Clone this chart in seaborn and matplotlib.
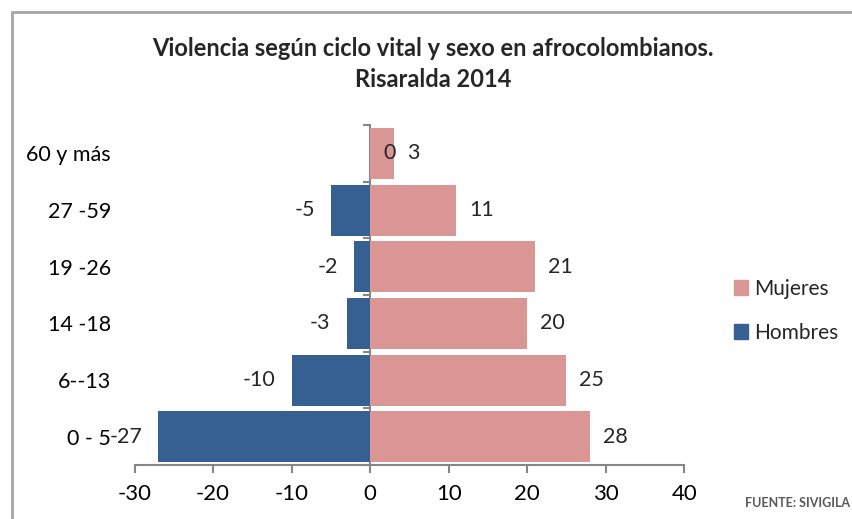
import matplotlib
matplotlib.use('Agg')
import matplotlib.pyplot as plt
from matplotlib.lines import Line2D
from matplotlib.patches import Patch
import pandas as pd
import seaborn as sns

categorias = ["60 y más", "27 -59", "19 -26", "14 -18", "6--13", "0 - 5"]
mujeres = [3, 11, 21, 20, 25, 28]
hombres = [0, -5, -2, -3, -10, -27]
x_ticks = [-30, -20, -10, 0, 10, 20, 30, 40]

COLOR_M = '#D99694'
COLOR_H = '#376092'
GRIS = '#868686'

sns.set_theme(style='white')
plt.rcParams['font.family'] = ['Lato', 'DejaVu Sans']
plt.rcParams['axes.unicode_minus'] = False

df = pd.DataFrame({
    'grupo': categorias * 2,
    'valor': mujeres + hombres,
    'sexo': ['Mujeres'] * len(categorias) + ['Hombres'] * len(categorias),
})

fig = plt.figure(figsize=(8.52, 5.19), dpi=100)
ax = fig.add_axes([0.158, 0.104, 0.645, 0.655])

sns.barplot(data=df, x='valor', y='grupo', hue='sexo', order=categorias,
            hue_order=['Mujeres', 'Hombres'], palette=[COLOR_M, COLOR_H],
            dodge=False, width=0.9, orient='h', saturation=1, linewidth=0,
            legend=False, ax=ax)

xmin, xmax = x_ticks[0], x_ticks[-1]
ax.set_xlim(xmin, xmax)
ax.set_ylim(len(categorias) - 0.5, -0.5)
ax.set_xticks(x_ticks)
ax.set_xlabel('')
ax.set_ylabel('')

for s in ['top', 'right', 'left']:
    ax.spines[s].set_visible(False)
ax.spines['bottom'].set_color(GRIS)
ax.spines['bottom'].set_linewidth(1.5)
ax.tick_params(axis='x', bottom=True, length=6, width=1.5, color=GRIS,
               labelsize=16, pad=8, labelcolor='black')
ax.tick_params(axis='y', left=False, labelsize=15.5, pad=11, labelcolor='black')

# eje vertical en x = 0 con marcas entre categorias
sec = ax.secondary_yaxis((0 - xmin) / (xmax - xmin))
sec.set_yticks([i - 0.5 for i in range(len(categorias) + 1)])
sec.set_yticklabels([])
sec.tick_params(left=True, length=5, width=1.5, color=GRIS, direction='out')
sec.spines['left'].set_color(GRIS)
sec.spines['left'].set_linewidth(1.5)

# etiquetas de datos
for i, v in enumerate(mujeres):
    ax.annotate(f'{v}', (v, i), xytext=(13, 0), textcoords='offset pixels',
                ha='left', va='center', fontsize=15.5)
for i, v in enumerate(hombres):
    if v < 0:
        ax.annotate(f'{v}', (v, i), xytext=(-16, 0), textcoords='offset pixels',
                    ha='right', va='center', fontsize=15.5)
    else:
        ax.annotate(f'{v}', (v, i), xytext=(13, 0), textcoords='offset pixels',
                    ha='left', va='center', fontsize=15.5)

fig.text(0.508, 0.877, 'Violencia según ciclo vital y sexo en afrocolombianos.\nRisaralda 2014',
         ha='center', va='center', fontsize=17, fontweight='bold', linespacing=1.45)

handles = [Patch(color=COLOR_M), Patch(color=COLOR_H)]
fig.legend(handles, ['Mujeres', 'Hombres'], loc='center left',
           bbox_to_anchor=(715 / 852, 1 - 311 / 519), frameon=False, fontsize=15,
           handlelength=0.7, handleheight=0.7, labelspacing=1.15, handletextpad=0.3)

fig.text(0.998, 1 - 503 / 519, 'FUENTE: SIVIGILA', ha='right', va='center',
         fontsize=9, color='#595959', fontweight='bold')

# marco
fig.add_artist(Line2D([12 / 852, 12 / 852], [0, 1 - 12 / 519], color='#A6A6A6', lw=2,
                      transform=fig.transFigure))
fig.add_artist(Line2D([12 / 852, 1], [1 - 12 / 519, 1 - 12 / 519], color='#A6A6A6', lw=2,
                      transform=fig.transFigure))

fig.savefig('out.png', dpi=100)
